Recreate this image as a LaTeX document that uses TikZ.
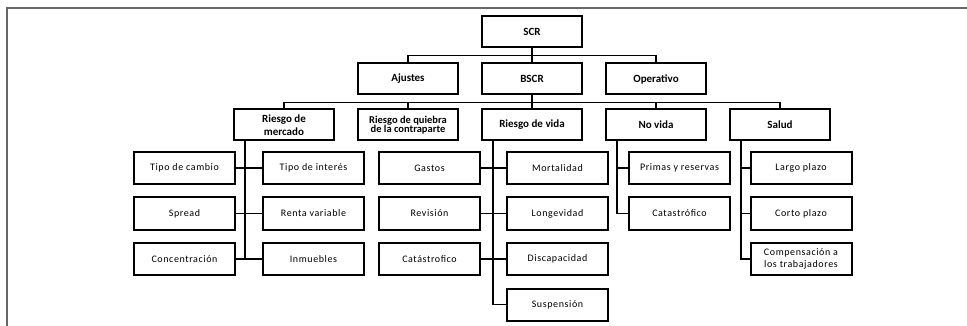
\documentclass[tikz,border=0pt]{standalone}
\usepackage{fontspec}
\setmainfont{Carlito}
\newfontfamily\leaffont[LetterSpace=6.0]{Carlito}
\usetikzlibrary{positioning}

\begin{document}
\begin{tikzpicture}[
    x=1pt, y=-1pt,
    every node/.style={
        draw,
        line width=2pt,
        align=center,
        inner sep=1pt
    },
    topbox/.style={minimum width=100pt, minimum height=31pt,
        font=\bfseries\fontsize{11}{13}\selectfont},
    leafbox/.style={minimum width=101pt, minimum height=32pt,
        font=\leaffont\fontsize{10}{11.5}\selectfont},
    link/.style={line width=1.8pt},
    node distance=14pt and 22pt
]

\useasboundingbox (0,0) rectangle (967,326);

% ------------------------
% Frame
% ------------------------
\draw[black!60, line width=1.5pt] (7,326) -- (7,8) -- (967,8);

% ------------------------
% SCR and first level
% ------------------------
\node (scr) [topbox] at (532,32) {SCR};

\node (bscr) [topbox, below=of scr] {BSCR};
\node (ajustes) [topbox, left=of bscr] {Ajustes};
\node (operativo) [topbox, right=of bscr] {Operativo};

% ------------------------
% BSCR modules
% ------------------------
\node (vida) [topbox, below=13pt of bscr] {Riesgo de vida};
\node (quiebra) [topbox, left=of vida,
  font=\bfseries\fontsize{10.5}{9.5}\selectfont]
{Riesgo de quiebra\\ de la contraparte};
\node (mercado) [topbox, left=of quiebra] {Riesgo de\\ mercado};
\node (novida) [topbox, right=of vida] {No vida};
\node (salud) [topbox, right=of novida] {Salud};

% ------------------------
% Riesgo de mercado (left)
% ------------------------
\node (cambio) [leafbox] at (184.5,168) {Tipo de cambio};
\node (interes) [leafbox] at (313.5,168) {Tipo de interés};
\node (spread) [leafbox] at (184.5,213.5) {Spread};
\node (renta) [leafbox] at (313.5,213.5) {Renta variable};
\node (concentracion) [leafbox] at (184.5,259) {Concentración};
\node (inmuebles) [leafbox] at (313.5,259) {Inmuebles};

% ------------------------
% Riesgo de vida (middle)
% ------------------------
\node (gastos) [leafbox] at (429.5,168) {Gastos};
\node (mortalidad) [leafbox] at (557.5,168) {Mortalidad};
\node (revision) [leafbox] at (429.5,213.5) {Revisión};
\node (longevidad) [leafbox] at (557.5,213.5) {Longevidad};
\node (catvida) [leafbox] at (429.5,259) {Catástrofico};
\node (discapacidad) [leafbox] at (557.5,259) {Discapacidad};
\node (suspension) [leafbox] at (557.5,304.5) {Suspensión};

% ------------------------
% No vida and Salud (right)
% ------------------------
\node (primas) [leafbox] at (679.5,168) {Primas y reservas};
\node (catnovida) [leafbox] at (679.5,213.5) {Catastrófico};

\node (largo) [leafbox] at (801,168) {Largo plazo};
\node (corto) [leafbox] at (801,213.5) {Corto plazo};
\node (compensacion) [leafbox] at (801,259) {Compensación a\\ los trabajadores};

% ------------------------
% Connectors
% ------------------------
\coordinate (j1) at ([yshift=-7pt]scr.south);
\draw[link] (scr.south) -- (j1);
\draw[link] (ajustes.north) |- (j1) -| (operativo.north);
\draw[link] (j1) -- (bscr.north);

\coordinate (j2) at ([yshift=-7pt]bscr.south);
\draw[link] (bscr.south) -- (j2);
\draw[link] (mercado.north) |- (j2) -| (salud.north);
\draw[link] (quiebra.north) -- (quiebra.north |- j2);
\draw[link] (vida.north) -- (j2);
\draw[link] (novida.north) -- (novida.north |- j2);

% trunks under the modules
\coordinate (mt) at ([xshift=-39pt]mercado.south);
\coordinate (vt) at ([xshift=-39pt]vida.south);
\coordinate (nt) at ([xshift=-39pt]novida.south);
\coordinate (st) at ([xshift=-39pt]salud.south);

\draw[link] (mt) -- (mt |- concentracion.east);
\draw[link] (cambio) -- (interes);
\draw[link] (spread) -- (renta);
\draw[link] (concentracion) -- (inmuebles);

\draw[link] (vt) |- (suspension.west);
\draw[link] (gastos) -- (mortalidad);
\draw[link] (revision) -- (longevidad);
\draw[link] (catvida) -- (discapacidad);

\draw[link] (nt) |- (catnovida.west);
\draw[link] (nt |- primas.west) -- (primas.west);

\draw[link] (st) |- (compensacion.west);
\draw[link] (st |- largo.west) -- (largo.west);
\draw[link] (st |- corto.west) -- (corto.west);

\end{tikzpicture}
\end{document}
